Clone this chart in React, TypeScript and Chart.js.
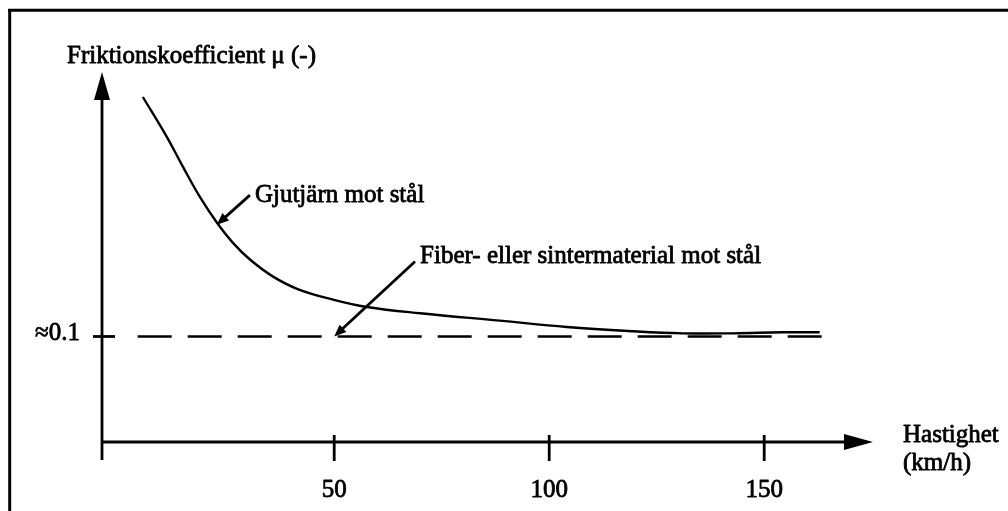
import React, { useEffect, useRef } from "react";
import { Chart, registerables } from "chart.js";

Chart.register(...registerables);

// ---- data ----
const SPEED = [5.5, 11.1, 14.8, 18.8, 22.7, 26.4, 30.4, 35.7, 41.5, 49.7, 57.6, 70.0, 88.5, 104.1, 119.5, 131.1, 142.7, 154.3, 162.9];
const CAST_IRON_MU = [0.327, 0.289, 0.261, 0.232, 0.208, 0.189, 0.173, 0.157, 0.145, 0.135, 0.128, 0.122, 0.115, 0.109, 0.105, 0.103, 0.103, 0.104, 0.104];
const FIBER_SPEED = [4.3, 163.4];
const FIBER_MU = [0.1, 0.1];
const X_TICKS = [50, 100, 150];
const Y_TICK_VALUE = 0.1;
const Y_TICK_LABEL = "≈0.1";
const Y_TITLE = "Friktionskoefficient μ (-)";
const X_TITLE = ["Hastighet", "(km/h)"];
const LABEL_CAST = "Gjutjärn mot stål";
const LABEL_FIBER = "Fiber- eller sintermaterial mot stål";
// annotation arrows in data coordinates (tail -> tip)
const CAST_ARROW = { tail: { x: 30.4, y: 0.234 }, tip: { x: 22.7, y: 0.206 } };
const FIBER_ARROW = { tail: { x: 68.8, y: 0.171 }, tip: { x: 50, y: 0.1 } };

const FONT = '25px "Liberation Serif", "Times New Roman", serif';

function arrowHead(ctx: CanvasRenderingContext2D, tx: number, ty: number, fx: number, fy: number, len: number, half: number) {
  const a = Math.atan2(ty - fy, tx - fx);
  const bx = tx - len * Math.cos(a);
  const by = ty - len * Math.sin(a);
  ctx.beginPath();
  ctx.moveTo(tx, ty);
  ctx.lineTo(bx + half * Math.sin(a), by - half * Math.cos(a));
  ctx.lineTo(bx - half * Math.sin(a), by + half * Math.cos(a));
  ctx.closePath();
  ctx.fill();
}

function inkText(ctx: CanvasRenderingContext2D, s: string, x: number, y: number) {
  ctx.save();
  ctx.lineWidth = 0.8;
  ctx.lineJoin = "round";
  ctx.fillText(s, x, y);
  ctx.strokeText(s, x, y);
  ctx.restore();
}

const decorPlugin = {
  id: "decor",
  afterDraw(chart: any) {
    const ctx: CanvasRenderingContext2D = chart.ctx;
    const xs = chart.scales.x;
    const ys = chart.scales.y;
    const area = chart.chartArea;
    ctx.save();
    ctx.strokeStyle = "#000";
    ctx.fillStyle = "#000";
    ctx.lineCap = "butt";

    // frame (top and left)
    ctx.lineWidth = 3;
    ctx.beginPath();
    ctx.moveTo(8, 10.3);
    ctx.lineTo(1008, 10.3);
    ctx.moveTo(9.7, 9);
    ctx.lineTo(9.7, 511);
    ctx.stroke();

    const ax = area.left;
    const ay = ys.getPixelForValue(0);

    // y axis
    ctx.lineWidth = 2.8;
    ctx.beginPath();
    ctx.moveTo(ax, ay + 18);
    ctx.lineTo(ax, area.top + 20);
    ctx.stroke();
    arrowHead(ctx, ax, area.top, ax, area.top + 50, 28, 8);

    // x axis
    ctx.beginPath();
    ctx.moveTo(ax, ay);
    ctx.lineTo(area.right - 20, ay);
    ctx.stroke();
    arrowHead(ctx, area.right, ay, area.right - 50, ay, 29, 8);

    ctx.font = FONT;
    // x ticks
    ctx.textAlign = "center";
    ctx.textBaseline = "alphabetic";
    X_TICKS.forEach((v) => {
      const px = xs.getPixelForValue(v);
      ctx.lineWidth = 2.8;
      ctx.beginPath();
      ctx.moveTo(px, ay - 7);
      ctx.lineTo(px, ay + 19);
      ctx.stroke();
      inkText(ctx, String(v), px, ay + 55);
    });

    // y tick
    const ty = ys.getPixelForValue(Y_TICK_VALUE);
    ctx.lineWidth = 2.8;
    ctx.beginPath();
    ctx.moveTo(ax - 9, ty);
    ctx.lineTo(ax + 13, ty);
    ctx.stroke();
    ctx.textAlign = "right";
    inkText(ctx, Y_TICK_LABEL, ax - 22, ty + 4);

    // titles
    ctx.textAlign = "left";
    inkText(ctx, Y_TITLE, 67, area.top - 9);
    inkText(ctx, X_TITLE[0], area.right + 30, ay);
    inkText(ctx, X_TITLE[1], area.right + 30, ay + 28);

    // annotation arrows
    const drawAnn = (ann: any, label: string, dx: number, dy: number) => {
      const tx = xs.getPixelForValue(ann.tail.x);
      const tyy = ys.getPixelForValue(ann.tail.y);
      const px = xs.getPixelForValue(ann.tip.x);
      const py = ys.getPixelForValue(ann.tip.y);
      const a = Math.atan2(py - tyy, px - tx);
      ctx.lineWidth = 2.8;
      ctx.beginPath();
      ctx.moveTo(tx, tyy);
      ctx.lineTo(px - 8 * Math.cos(a), py - 8 * Math.sin(a));
      ctx.stroke();
      arrowHead(ctx, px, py, tx, tyy, 12, 5);
      ctx.textAlign = "left";
      inkText(ctx, label, tx + dx, tyy + dy);
    };
    drawAnn(CAST_ARROW, LABEL_CAST, 5, 7);
    drawAnn(FIBER_ARROW, LABEL_FIBER, 5, 1);

    ctx.restore();
  },
};

export default function App() {
  const ref = useRef<HTMLCanvasElement | null>(null);
  useEffect(() => {
    if (!ref.current) return;
    const chart = new Chart(ref.current, {
      type: "line",
      data: {
        datasets: [
          {
            label: LABEL_CAST,
            data: SPEED.map((x, i) => ({ x, y: CAST_IRON_MU[i] })),
            borderColor: "#000",
            borderWidth: 2.4,
            pointRadius: 0,
            fill: false,
            tension: 0.4,
          },
          {
            label: LABEL_FIBER,
            data: FIBER_SPEED.map((x, i) => ({ x, y: FIBER_MU[i] })),
            borderColor: "#000",
            borderWidth: 2.6,
            borderDash: [34, 16],
            pointRadius: 0,
            fill: false,
          },
        ],
      },
      options: {
        responsive: false,
        animation: false,
        layout: { padding: { left: 102, right: 135, top: 72, bottom: 69 } },
        scales: {
          x: { type: "linear", min: -4, max: 175.3, display: false },
          y: { type: "linear", min: 0, max: 0.3507, display: false },
        },
        plugins: { legend: { display: false }, tooltip: { enabled: false } },
      },
      plugins: [decorPlugin],
    } as any);
    return () => chart.destroy();
  }, []);
  return (
    <div style={{ position: "absolute", left: 0, top: 0, width: 1008, height: 511, background: "#fff" }}>
      <canvas ref={ref} width={1008} height={511} style={{ display: "block" }} />
    </div>
  );
}
